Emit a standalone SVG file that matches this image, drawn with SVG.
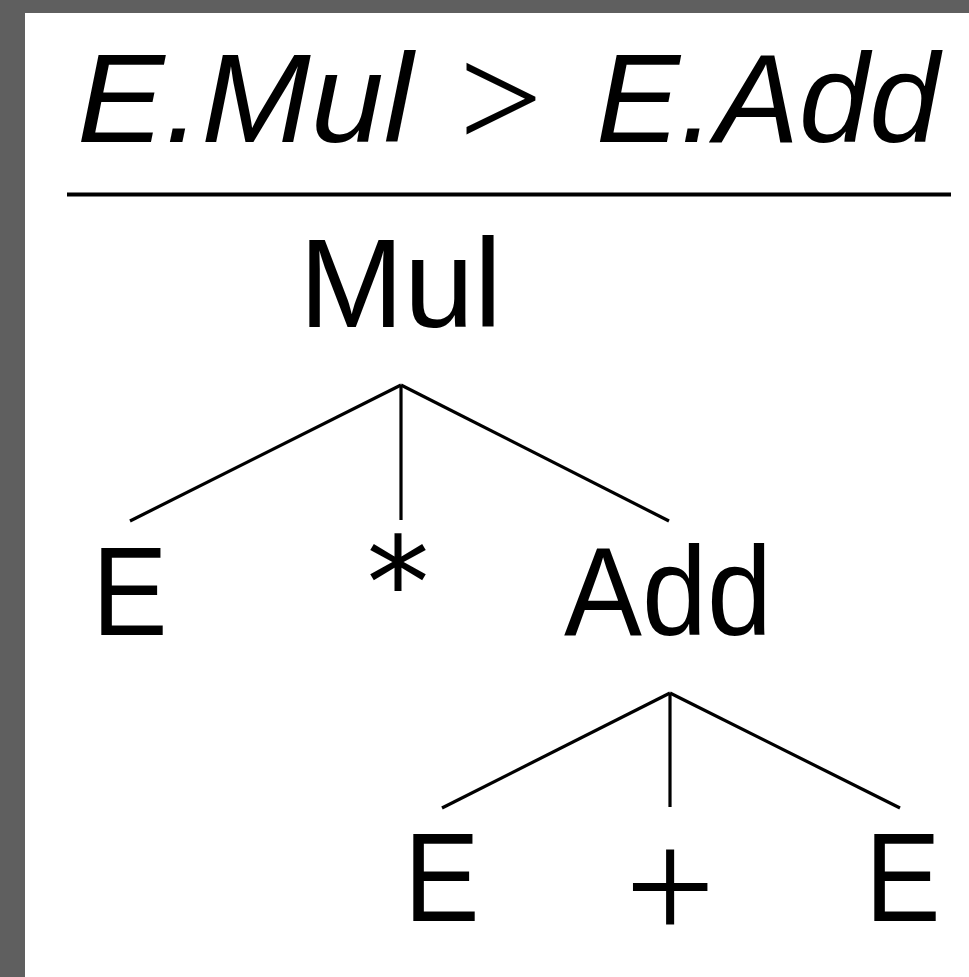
<svg xmlns="http://www.w3.org/2000/svg" width="969" height="977" viewBox="0 0 969 977">
  <style>
    .lbl { font-family: "Liberation Sans", Arial, sans-serif; font-size: 126px; fill: #000; }
    .it { font-family: "Liberation Sans", Arial, sans-serif; font-size: 126px; font-style: italic; fill: #000; }
    .op { font-family: "Liberation Serif", "Times New Roman", serif; fill: #000; }
    .edge { stroke: #000; stroke-width: 3.2; fill: none; }
  </style>
  <rect x="0" y="0" width="969" height="977" fill="#5f5f5f"/>
  <rect x="25" y="13" width="944" height="964" fill="#ffffff"/>

  <g id="judgement">
    <text class="it" x="77" y="142" textLength="336" lengthAdjust="spacingAndGlyphs">E.Mul</text>
    <text class="op" x="459" y="148" font-size="148">&gt;</text>
    <text class="it" x="596" y="142">E.Add</text>
    <line x1="67" y1="194.5" x2="951" y2="194.5" stroke="#000" stroke-width="4"/>
  </g>

  <g id="node-mul"><text class="lbl" x="299" y="327">Mul</text></g>
  <g id="node-e1"><text class="lbl" x="92" y="635" textLength="75.6" lengthAdjust="spacingAndGlyphs">E</text></g>
  <g id="node-star"><text x="398" y="627" text-anchor="middle" font-family="DejaVu Sans, sans-serif" font-size="126">*</text></g>
  <g id="node-add"><text class="lbl" x="564" y="635" textLength="208" lengthAdjust="spacingAndGlyphs">Add</text></g>
  <g id="node-e2"><text class="lbl" x="404" y="921" textLength="75.6" lengthAdjust="spacingAndGlyphs">E</text></g>
  <g id="node-plus"><text class="op" x="670" y="941" text-anchor="middle" font-size="160">+</text></g>
  <g id="node-e3"><text class="lbl" x="865" y="921" textLength="75.6" lengthAdjust="spacingAndGlyphs">E</text></g>

  <g id="connectors">
    <line class="edge" x1="401" y1="385" x2="130" y2="521"/>
    <line class="edge" x1="401" y1="385" x2="401" y2="520"/>
    <line class="edge" x1="401" y1="385" x2="669" y2="521"/>
    <line class="edge" x1="670" y1="693" x2="442" y2="808"/>
    <line class="edge" x1="670" y1="693" x2="670" y2="807"/>
    <line class="edge" x1="670" y1="693" x2="900" y2="808"/>
  </g>
</svg>
